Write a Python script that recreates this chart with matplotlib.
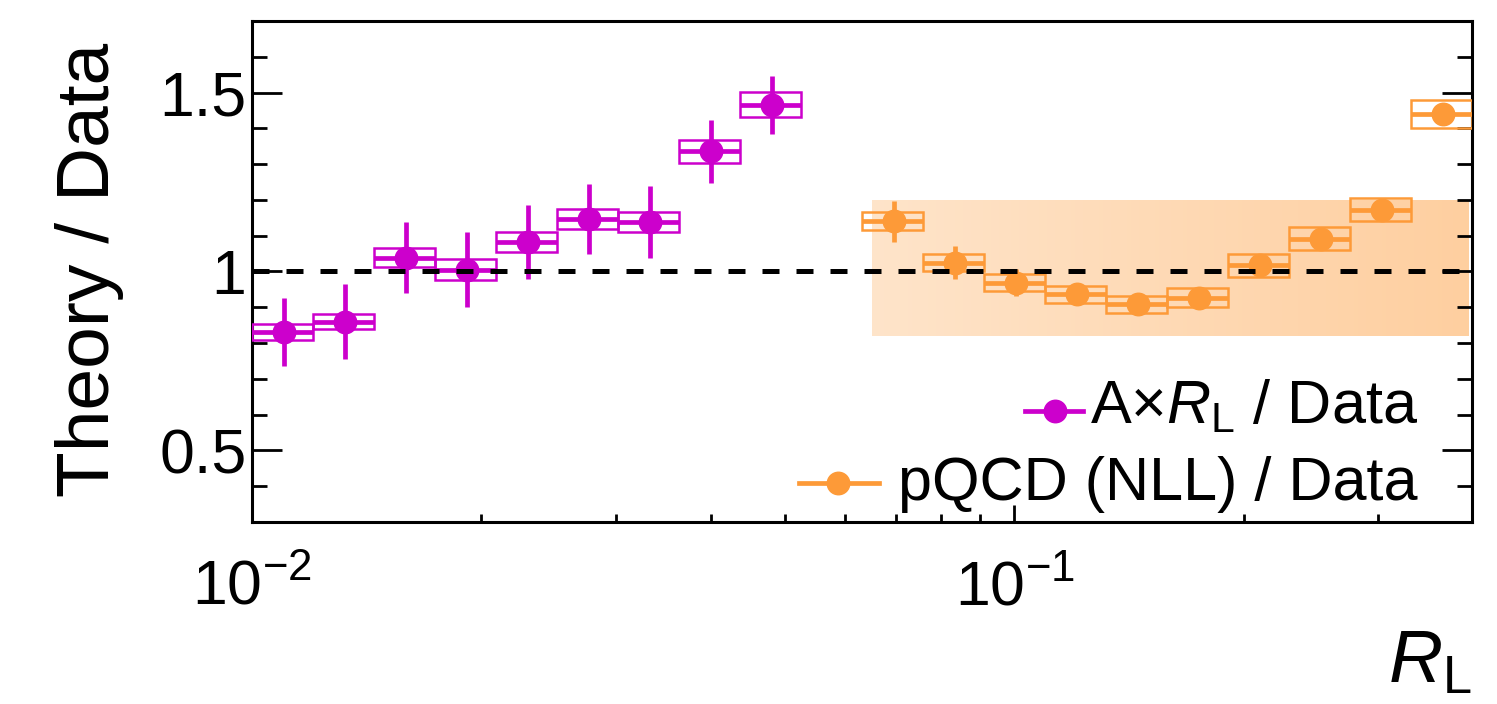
import numpy as np
import matplotlib
matplotlib.use("Agg")
import matplotlib.pyplot as plt
from matplotlib.patches import Rectangle
from matplotlib.ticker import LogLocator, NullFormatter, MultipleLocator, FixedLocator, FixedFormatter

plt.rcParams['font.family'] = ['Liberation Sans', 'DejaVu Sans']
plt.rcParams['mathtext.fontset'] = 'custom'
plt.rcParams['mathtext.rm'] = 'Liberation Sans'
plt.rcParams['mathtext.it'] = 'Liberation Sans:italic'
plt.rcParams['mathtext.bf'] = 'Liberation Sans:bold'

MAGENTA = '#cc00cc'
ORANGE = '#fd9a38'

# A x R_L / Data  (bins of 0.08 in log10 R_L)
axr_lo = [0.01000, 0.01202, 0.01445, 0.01738, 0.02089, 0.02512, 0.03020, 0.03631, 0.04365]
axr_hi = [0.01202, 0.01445, 0.01738, 0.02089, 0.02512, 0.03020, 0.03631, 0.04365, 0.05248]
axr_val = [0.830, 0.860, 1.039, 1.005, 1.082, 1.147, 1.138, 1.336, 1.466]
axr_stat = [0.095, 0.105, 0.100, 0.105, 0.104, 0.098, 0.100, 0.088, 0.081]
axr_sys = [0.022, 0.021, 0.027, 0.029, 0.027, 0.028, 0.028, 0.032, 0.035]

# pQCD (NLL) / Data
nll_lo = [0.06310, 0.07586, 0.09120, 0.10965, 0.13183, 0.15849, 0.19055, 0.22909, 0.27542, 0.33113]
nll_hi = [0.07586, 0.09120, 0.10965, 0.13183, 0.15849, 0.19055, 0.22909, 0.27542, 0.33113, 0.39811]
nll_val = [1.140, 1.025, 0.969, 0.936, 0.908, 0.927, 1.017, 1.092, 1.173, 1.441]
nll_stat = [0.057, 0.047, 0.038, 0.020, 0.015, 0.015, 0.015, 0.015, 0.015, 0.015]
nll_sys = [0.025, 0.023, 0.024, 0.024, 0.024, 0.026, 0.031, 0.032, 0.033, 0.039]

# theory uncertainty band
band_x = [0.065, 0.395]
band_y = [0.82, 1.20]

fig = plt.figure(figsize=(14.97, 7.04), dpi=100)
ax = fig.add_axes([0.1683, 0.2585, 0.815, 0.7117])
ax.set_xscale('log')
ax.set_xlim(0.01, 0.3981)
ax.set_ylim(0.3, 1.7)

# band: orange fading in from left to right
nseg = 150
edges = np.geomspace(band_x[0], band_x[1], nseg + 1)
orange_rgb = np.array(matplotlib.colors.to_rgb(ORANGE))
for i in range(nseg):
    a = 0.27 + 0.21 * i / (nseg - 1)
    c = (1 - a) * np.ones(3) + a * orange_rgb
    ax.fill_between([edges[i], edges[i + 1]], band_y[0], band_y[1],
                    color=c, lw=0, zorder=1)


def draw_ratio(lo, hi, val, stat, sys, color):
    lo = np.array(lo)
    hi = np.array(hi)
    xc = (lo + hi) / 2
    for l, h, v, s in zip(lo, hi, val, sys):
        ax.add_patch(Rectangle((l, v - s), h - l, 2 * s, fill=False,
                               ec=color, lw=1.8, zorder=3))
    ax.errorbar(xc, val, xerr=[xc - lo, hi - xc], yerr=stat, fmt='o',
                color=color, ms=16.2, elinewidth=3.4, capsize=0, zorder=4)


draw_ratio(axr_lo, axr_hi, axr_val, axr_stat, axr_sys, MAGENTA)
draw_ratio(nll_lo, nll_hi, nll_val, nll_stat, nll_sys, ORANGE)

ax.axhline(1.0, xmax=0.997, color='black', lw=3.6, dashes=(3.4, 3.4), zorder=5)

# axes style
for sp in ax.spines.values():
    sp.set_linewidth(2.2)
ax.xaxis.set_major_locator(LogLocator(base=10))
ax.xaxis.set_minor_locator(LogLocator(base=10, subs=np.arange(2, 10)))
ax.xaxis.set_minor_formatter(NullFormatter())
ax.yaxis.set_major_locator(FixedLocator([0.5, 1.0, 1.5]))
ax.yaxis.set_major_formatter(FixedFormatter(['0.5', '1', '1.5']))
ax.yaxis.set_minor_locator(MultipleLocator(0.1))
ax.tick_params(axis='both', which='both', direction='in', width=2)
ax.tick_params(axis='y', which='major', length=21.5, left=True, right=True, labelsize=45, pad=4)
ax.tick_params(axis='y', which='minor', length=10.5, left=True, right=True)
ax.tick_params(axis='x', which='major', length=12, top=False, labelsize=45, pad=26)
ax.tick_params(axis='x', which='minor', length=6, top=False)

ax.set_ylabel('Theory / Data', fontsize=54, va='center')
ax.yaxis.set_label_coords(-0.133, 0.503)
ax.set_xlabel('$R_{\\mathrm{L}}$', fontsize=54, ha='right', va='baseline')
ax.xaxis.set_label_coords(1.0, -0.319)

# legend
lx_text = 0.9557
ax.plot([0.6336, 0.6811], [0.2216, 0.2216], transform=ax.transAxes,
        color=MAGENTA, lw=3.4, zorder=6)
ax.plot([0.658], [0.2216], 'o', transform=ax.transAxes, color=MAGENTA, ms=16.2, zorder=6)
ax.text(lx_text, 0.1976, 'A\u00d7$R_{\\mathrm{L}}$ / Data', transform=ax.transAxes,
        ha='right', va='baseline', fontsize=44, zorder=6)
ax.plot([0.4484, 0.514], [0.0778, 0.0778], transform=ax.transAxes,
        color=ORANGE, lw=3.4, zorder=6)
ax.plot([0.480], [0.0778], 'o', transform=ax.transAxes, color=ORANGE, ms=16.2, zorder=6)
ax.text(lx_text, 0.0439, 'pQCD (NLL) / Data', transform=ax.transAxes,
        ha='right', va='baseline', fontsize=44, zorder=6)

fig.savefig('out.png', dpi=100)
